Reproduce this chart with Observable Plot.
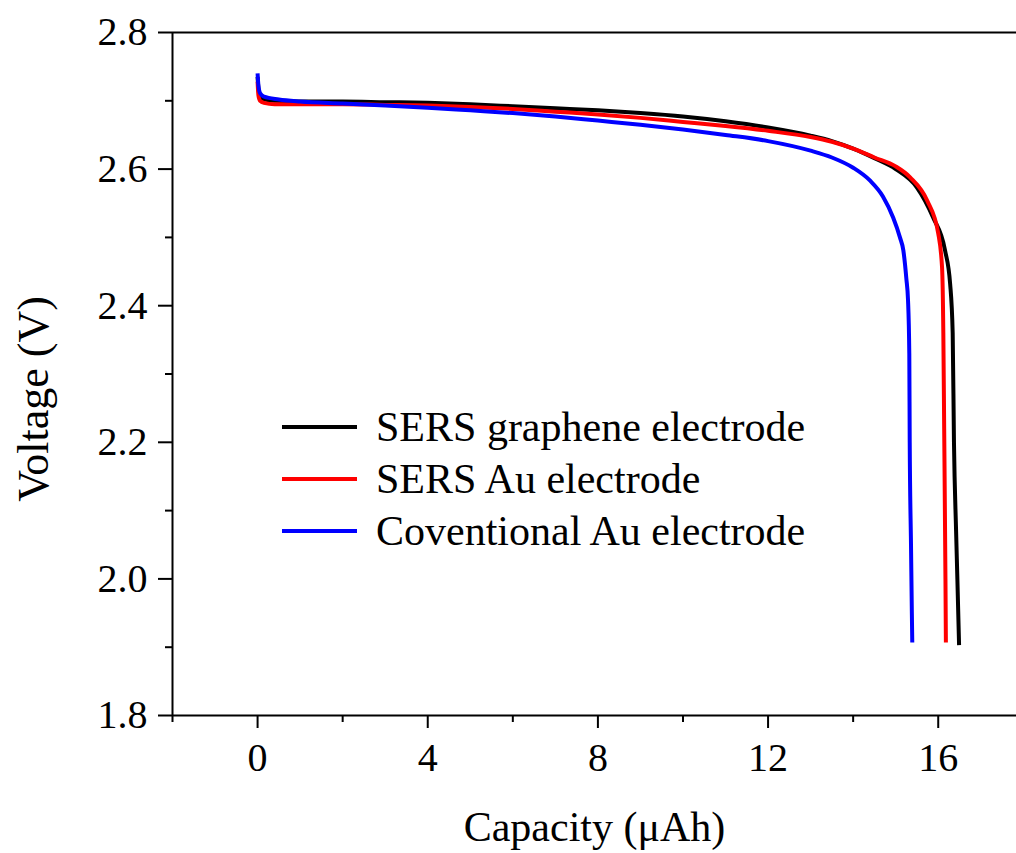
<!DOCTYPE html>
<html>
<head>
<meta charset="utf-8">
<script src="https://cdn.jsdelivr.net/npm/d3@7"></script>
<script src="https://cdn.jsdelivr.net/npm/@observablehq/plot@0.6"></script>
<style>
  html, body { margin: 0; padding: 0; background: #fff; }
  #wrap { position: relative; width: 1016px; height: 853px; overflow: hidden; }
  #legend { position: absolute; left: 282px; top: 401px; font-family: "Liberation Serif", "Times New Roman", serif; font-size: 42px; color: #000; }
  .row { display: flex; align-items: center; height: 52px; white-space: nowrap; }
  .swatch { width: 75px; height: 3.5px; margin-right: 19px; }
</style>
</head>
<body>
<div id="wrap"><div id="legend"></div></div>
<script>
// ---- data ----
const seriesNames = ["SERS graphene electrode", "SERS Au electrode", "Coventional Au electrode"];
const seriesColors = ["#000000", "#ff0000", "#0000ff"];

const grapheneCap = [0, 0.02, 0.06, 0.15, 0.4, 1, 2, 3, 4, 5, 6, 7, 8, 9, 10, 11, 12, 13, 13.5, 14, 14.5, 15, 15.5, 15.88, 16.16, 16.28, 16.34, 16.37, 16.42, 16.45, 16.49];
const grapheneV   = [2.735, 2.718, 2.706, 2.702, 2.700, 2.699, 2.699, 2.698, 2.697, 2.695, 2.692, 2.689, 2.686, 2.682, 2.677, 2.670, 2.661, 2.649, 2.641, 2.630, 2.616, 2.600, 2.573, 2.529, 2.481, 2.432, 2.36, 2.20, 2.07, 2.00, 1.903];

const sersAuCap = [0, 0.02, 0.06, 0.15, 0.4, 1, 2, 3, 4, 5, 6, 7, 8, 9, 10, 11, 12, 13, 13.5, 14, 14.5, 15, 15.34, 15.74, 16.0, 16.09, 16.12, 16.14, 16.17, 16.18];
const sersAuV   = [2.728, 2.708, 2.700, 2.697, 2.695, 2.695, 2.695, 2.694, 2.693, 2.691, 2.688, 2.684, 2.680, 2.675, 2.669, 2.663, 2.656, 2.647, 2.640, 2.630, 2.617, 2.604, 2.588, 2.554, 2.506, 2.456, 2.36, 2.22, 2.00, 1.907];

const convCap = [0, 0.02, 0.06, 0.15, 0.5, 1, 2, 3, 4, 5, 6, 7, 8, 9, 10, 11, 12, 13, 13.5, 14, 14.4, 14.7, 14.94, 15.1, 15.18, 15.25, 15.29, 15.32, 15.33, 15.36, 15.38, 15.39];
const convV   = [2.740, 2.722, 2.711, 2.706, 2.702, 2.699, 2.696, 2.693, 2.690, 2.686, 2.682, 2.677, 2.671, 2.665, 2.658, 2.650, 2.641, 2.627, 2.617, 2.602, 2.583, 2.560, 2.529, 2.500, 2.481, 2.44, 2.408, 2.33, 2.20, 2.05, 1.95, 1.907];

const xMajorTicks = [0, 4, 8, 12, 16];
const xMinorTicks = [-2, 2, 6, 10, 14];
const yMajorTicks = [1.8, 2.0, 2.2, 2.4, 2.6, 2.8];
const yMinorTicks = [1.9, 2.1, 2.3, 2.5, 2.7];
const xLabel = "Capacity (μAh)";
const yLabel = "Voltage (V)";

// ---- build table ----
const caps = [grapheneCap, sersAuCap, convCap];
const volts = [grapheneV, sersAuV, convV];
const rows = [];
seriesNames.forEach((name, i) => {
  caps[i].forEach((c, j) => rows.push({series: name, cap: c, v: volts[i][j]}));
});

const font = "'Liberation Serif', 'Times New Roman', serif";

const chart = Plot.plot({
  width: 1016,
  height: 853,
  marginLeft: 172,
  marginRight: 0,
  marginTop: 32,
  marginBottom: 138,
  x: {domain: [-2, 17.84], label: null},
  y: {domain: [1.8, 2.8], label: null},
  color: {domain: seriesNames, range: seriesColors},
  style: {fontFamily: font, color: "#000", background: "#fff", overflow: "visible"},
  marks: [
    Plot.axisX(xMajorTicks, {tickSize: 13, tickPadding: 14, fontSize: 40, strokeWidth: 2, label: null, tickFormat: d => String(d)}),
    Plot.axisX(xMinorTicks, {tickSize: 7, strokeWidth: 2, label: null, tickFormat: () => ""}),
    Plot.axisY(yMajorTicks, {tickSize: 14, tickPadding: 11, fontSize: 40, strokeWidth: 2, label: null, tickFormat: d3.format(".1f")}),
    Plot.axisY(yMinorTicks, {tickSize: 7, strokeWidth: 2, label: null, tickFormat: () => ""}),
    Plot.ruleX([-2], {strokeWidth: 2}),
    Plot.ruleY([1.8, 2.8], {strokeWidth: 2}),
    Plot.line(rows, {x: "cap", y: "v", z: "series", stroke: "series", strokeWidth: 4, curve: "monotone-x", strokeLinejoin: "round", strokeLinecap: "butt"}),
    Plot.text([xLabel], {frameAnchor: "bottom", textAnchor: "middle", dy: 112, fontSize: 42, lineAnchor: "middle"}),
    Plot.text([yLabel], {frameAnchor: "left", textAnchor: "middle", dx: -139, dy: 25, rotate: -90, fontSize: 44, lineAnchor: "middle"})
  ]
});

const wrap = document.getElementById("wrap");
wrap.insertBefore(chart, wrap.firstChild);

const legend = document.getElementById("legend");
seriesNames.forEach((name, i) => {
  const r = document.createElement("div");
  r.className = "row";
  const s = document.createElement("span");
  s.className = "swatch";
  s.style.background = seriesColors[i];
  const t = document.createElement("span");
  t.textContent = name;
  r.appendChild(s);
  r.appendChild(t);
  legend.appendChild(r);
});
</script>
</body>
</html>
